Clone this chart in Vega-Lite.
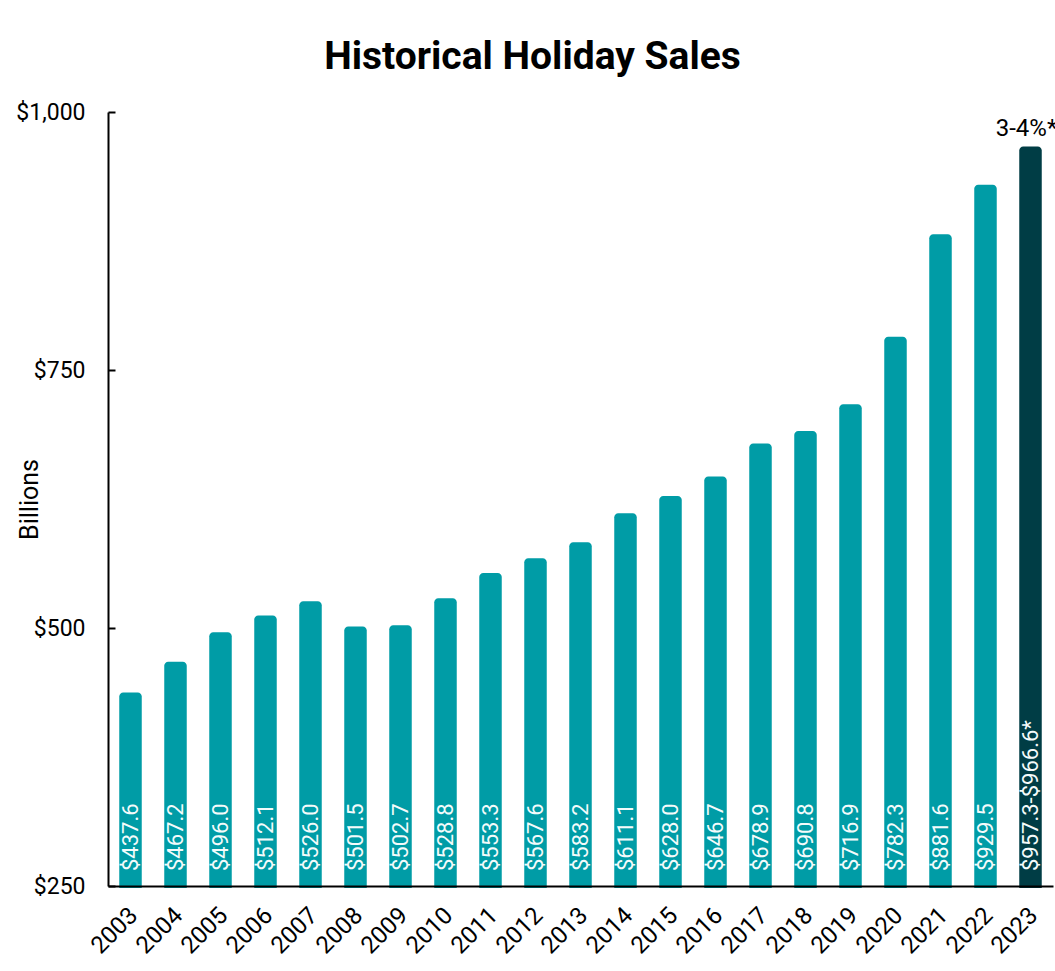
{
  "$schema": "https://vega.github.io/schema/vega-lite/v6.json",
  "width": 945,
  "height": 774,
  "autosize": {"type": "none"},
  "padding": {"left": 108, "top": 112, "right": 2, "bottom": 85},
  "background": "white",
  "view": {"stroke": null},
  "title": {
    "text": "Historical Holiday Sales",
    "font": "Roboto",
    "fontSize": 39,
    "fontWeight": "bold",
    "color": "#000000",
    "anchor": "middle",
    "dx": -48,
    "offset": 24
  },
  "data": {
    "values": [
      {"year": "2003", "value": 437.6, "label": "$437.6", "kind": "actual"},
      {"year": "2004", "value": 467.2, "label": "$467.2", "kind": "actual"},
      {"year": "2005", "value": 496.0, "label": "$496.0", "kind": "actual"},
      {"year": "2006", "value": 512.1, "label": "$512.1", "kind": "actual"},
      {"year": "2007", "value": 526.0, "label": "$526.0", "kind": "actual"},
      {"year": "2008", "value": 501.5, "label": "$501.5", "kind": "actual"},
      {"year": "2009", "value": 502.7, "label": "$502.7", "kind": "actual"},
      {"year": "2010", "value": 528.8, "label": "$528.8", "kind": "actual"},
      {"year": "2011", "value": 553.3, "label": "$553.3", "kind": "actual"},
      {"year": "2012", "value": 567.6, "label": "$567.6", "kind": "actual"},
      {"year": "2013", "value": 583.2, "label": "$583.2", "kind": "actual"},
      {"year": "2014", "value": 611.1, "label": "$611.1", "kind": "actual"},
      {"year": "2015", "value": 628.0, "label": "$628.0", "kind": "actual"},
      {"year": "2016", "value": 646.7, "label": "$646.7", "kind": "actual"},
      {"year": "2017", "value": 678.9, "label": "$678.9", "kind": "actual"},
      {"year": "2018", "value": 690.8, "label": "$690.8", "kind": "actual"},
      {"year": "2019", "value": 716.9, "label": "$716.9", "kind": "actual"},
      {"year": "2020", "value": 782.3, "label": "$782.3", "kind": "actual"},
      {"year": "2021", "value": 881.6, "label": "$881.6", "kind": "actual"},
      {"year": "2022", "value": 929.5, "label": "$929.5", "kind": "actual"},
      {"year": "2023", "value": 966.6, "label": "$957.3-$966.6*", "kind": "forecast", "note": "3-4%*"}
    ]
  },
  "encoding": {
    "x": {
      "field": "year",
      "type": "ordinal",
      "scale": {"paddingInner": 0.5, "paddingOuter": 0.25},
      "axis": {
        "title": null,
        "labelAngle": -45,
        "labelFont": "Roboto",
        "labelFontSize": 24,
        "labelColor": "#000000",
        "ticks": false,
        "domainColor": "#000000",
        "domainWidth": 2,
        "labelPadding": 17,
        "labelOffset": -5,
        "zindex": 1
      }
    }
  },
  "layer": [
    {
      "mark": {"type": "bar", "cornerRadiusTopLeft": 4, "cornerRadiusTopRight": 4},
      "encoding": {
        "y": {
          "field": "value",
          "type": "quantitative",
          "scale": {"domain": [250, 1000], "nice": false, "zero": false},
          "axis": {
            "title": "Billions",
            "titleFont": "Roboto",
            "titleFontSize": 25,
            "titleFontWeight": "normal",
            "titleColor": "#000000",
            "titleX": -79,
            "titleBaseline": "middle",
            "values": [250, 500, 750, 1000],
            "format": "$,d",
            "labelFont": "Roboto",
            "labelFontSize": 23,
            "labelColor": "#000000",
            "grid": false,
            "domainColor": "#000000",
            "domainWidth": 2,
            "tickColor": "#000000",
            "tickWidth": 2,
            "tickSize": -7,
            "labelPadding": 30,
            "zindex": 1
          }
        },
        "y2": {"datum": 248},
        "color": {
          "field": "kind",
          "type": "nominal",
          "scale": {"domain": ["actual", "forecast"], "range": ["#009CA6", "#003D45"]},
          "legend": null
        }
      }
    },
    {
      "mark": {"type": "text", "angle": 270, "align": "left", "baseline": "middle", "dx": 15, "color": "#F4FBFB", "font": "Roboto", "fontSize": 22},
      "encoding": {
        "y": {"datum": 250, "type": "quantitative"},
        "text": {"field": "label"}
      }
    },
    {
      "transform": [{"filter": "datum.note"}],
      "mark": {"type": "text", "baseline": "alphabetic", "dy": -10, "dx": -4, "color": "#000000", "font": "Roboto", "fontSize": 24},
      "encoding": {
        "y": {"field": "value", "type": "quantitative"},
        "text": {"field": "note"}
      }
    }
  ]
}
